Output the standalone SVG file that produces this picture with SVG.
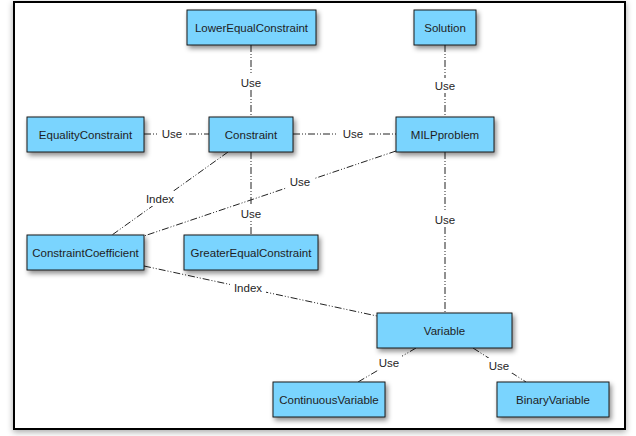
<svg xmlns="http://www.w3.org/2000/svg" width="636" height="436" viewBox="0 0 636 436">
<defs>
<filter id="sh" x="-20%" y="-30%" width="150%" height="180%">
<feDropShadow dx="2" dy="3" stdDeviation="2.5" flood-color="#000" flood-opacity="0.45"/>
</filter>
<filter id="fsh" x="-5%" y="-5%" width="110%" height="110%">
<feDropShadow dx="0" dy="2" stdDeviation="3" flood-color="#000" flood-opacity="0.35"/>
</filter>
</defs>
<style>
.frame{fill:#fff;stroke:#000;stroke-width:2}
.box{fill:#7AD4FE;stroke:#1a1a1a;stroke-width:1;filter:url(#sh)}
.t{font-family:"Liberation Sans",Arial,sans-serif;font-size:11.5px;fill:#1e1e1e;text-anchor:middle;dominant-baseline:central}
.c{fill:none;stroke:#222;stroke-width:1;stroke-dasharray:7 2 1 2 1 2}
.lb{fill:#fff}
</style>
<rect x="0" y="0" width="636" height="436" fill="#fff"/>
<rect class="frame" x="14" y="2" width="611" height="427" filter="url(#fsh)"/>
<g id="connectors">
<line class="c" x1="251" y1="45" x2="251" y2="117"/>
<line class="c" x1="445" y1="45" x2="445" y2="117"/>
<line class="c" x1="144" y1="134" x2="209" y2="134"/>
<line class="c" x1="293" y1="134" x2="396" y2="134"/>
<line class="c" x1="228" y1="152" x2="112" y2="235"/>
<line class="c" x1="396" y1="151" x2="144" y2="236"/>
<line class="c" x1="251" y1="152" x2="251" y2="235"/>
<line class="c" x1="445" y1="152" x2="445" y2="313"/>
<line class="c" x1="144" y1="266" x2="377" y2="316"/>
<line class="c" x1="416" y1="348" x2="358" y2="382"/>
<line class="c" x1="473" y1="348" x2="526" y2="382"/>
<rect class="lb" x="239" y="75" width="24" height="15"/><text class="t" x="251" y="82.5">Use</text>
<rect class="lb" x="433" y="78" width="24" height="15"/><text class="t" x="445" y="86">Use</text>
<rect class="lb" x="158" y="127" width="28" height="15"/><text class="t" x="172" y="134">Use</text>
<rect class="lb" x="337" y="127" width="32" height="15"/><text class="t" x="353" y="134">Use</text>
<rect class="lb" x="143" y="191" width="34" height="15"/><text class="t" x="160" y="199">Index</text>
<rect class="lb" x="286" y="174" width="28" height="15"/><text class="t" x="300" y="182">Use</text>
<rect class="lb" x="239" y="206" width="24" height="15"/><text class="t" x="251" y="214">Use</text>
<rect class="lb" x="433" y="212" width="24" height="15"/><text class="t" x="445" y="220">Use</text>
<rect class="lb" x="230" y="280" width="36" height="15"/><text class="t" x="248" y="288">Index</text>
<rect class="lb" x="376" y="355" width="26" height="15"/><text class="t" x="389" y="363">Use</text>
<rect class="lb" x="486" y="358" width="26" height="15"/><text class="t" x="499" y="366">Use</text>
</g>
<g id="LowerEqualConstraint"><rect class="box" x="187" y="10" width="129" height="35"/><text class="t" x="251.5" y="27.5">LowerEqualConstraint</text></g>
<g id="Solution"><rect class="box" x="414" y="10" width="62" height="35"/><text class="t" x="445" y="27.5">Solution</text></g>
<g id="EqualityConstraint"><rect class="box" x="27" y="117" width="117" height="35"/><text class="t" x="85.5" y="134.5">EqualityConstraint</text></g>
<g id="Constraint"><rect class="box" x="209" y="117" width="84" height="35"/><text class="t" x="251" y="134.5">Constraint</text></g>
<g id="MILPproblem"><rect class="box" x="396" y="117" width="98" height="35"/><text class="t" x="445" y="134.5">MILPproblem</text></g>
<g id="ConstraintCoefficient"><rect class="box" x="27" y="235" width="117" height="35"/><text class="t" x="85.5" y="252.5">ConstraintCoefficient</text></g>
<g id="GreaterEqualConstraint"><rect class="box" x="184" y="235" width="134" height="35"/><text class="t" x="251" y="252.5">GreaterEqualConstraint</text></g>
<g id="Variable"><rect class="box" x="377" y="313" width="135" height="35"/><text class="t" x="444.5" y="330.5">Variable</text></g>
<g id="ContinuousVariable"><rect class="box" x="273" y="382" width="112" height="35"/><text class="t" x="329" y="399.5">ContinuousVariable</text></g>
<g id="BinaryVariable"><rect class="box" x="497" y="382" width="112" height="35"/><text class="t" x="553" y="399.5">BinaryVariable</text></g>
</svg>
